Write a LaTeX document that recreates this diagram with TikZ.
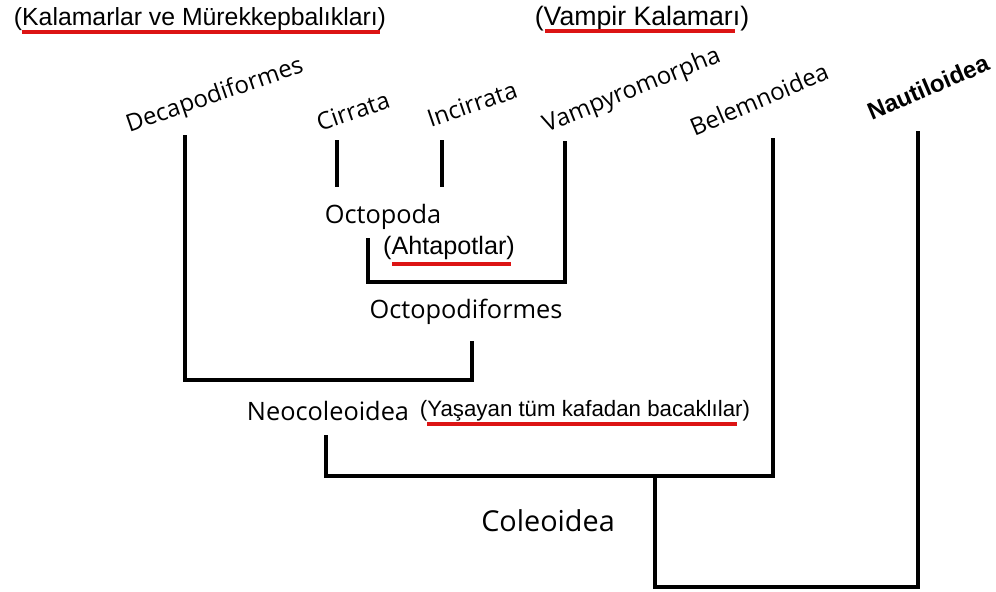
\documentclass[tikz,border=0pt]{standalone}
\usepackage{fontspec}
\setmainfont{Open Sans}
\newfontfamily\arialf{Liberation Sans}
\begin{document}
\begin{tikzpicture}[x=0.75pt,y=-0.75pt,
  tree/.style={line width=3.2pt,line join=miter,line cap=rect},
  redline/.style={line width=2.4pt,draw={rgb,255:red,220;green,20;blue,20}},
  taxon/.style={font=\fontsize{18}{21}\selectfont,inner sep=0pt},
  flat/.style={font=\fontsize{19}{22}\selectfont,inner sep=0pt},
  paren/.style={inner sep=0pt}]
\useasboundingbox (0,0) rectangle (996,592);
% labels
\node[taxon,rotate=19] (dec) at (215,96) {Decapodiformes};
\node[taxon,rotate=19] (cir) at (353,111) {Cirrata};
\node[taxon,rotate=19] (inc) at (472,104) {Incirrata};
\node[taxon,rotate=22] (vam) at (632,91) {Vampyromorpha};
\node[taxon,rotate=23] (bel) at (759,99) {Belemnoidea};
\node[taxon,rotate=23,font=\arialf\bfseries\fontsize{18}{21}\selectfont] (nau) at (928,87) {Nautiloidea};
\node[flat] (octo) at (383,217) {Octopoda};
\node[flat] (octf) at (466,312) {Octopodiformes};
\node[flat] (neo) at (328,411) {Neocoleoidea};
\node[flat,font=\fontsize{21.6}{25}\selectfont] (cole) at (548,521) {Coleoidea};
\node[paren,font=\arialf\fontsize{18.6}{22}\selectfont] (kal) at (200,19) {(Kalamarlar ve Mürekkepbalıkları)};
\node[paren,font=\arialf\fontsize{20}{24}\selectfont] (vk) at (642,19) {(Vampir Kalamarı)};
\node[paren,font=\arialf\fontsize{18.9}{22}\selectfont] (aht) at (449,248) {(Ahtapotlar)};
\node[paren,font=\arialf\fontsize{16.7}{20}\selectfont] (yas) at (585,411) {(Yaşayan tüm kafadan bacaklılar)};
% red underlines
\draw[redline] (22,32) -- (380,32);
\draw[redline] (545,31) -- (735,31);
\draw[redline] (392,264) -- (511,264);
\draw[redline] (427,424) -- (737,424);
% tree coordinates
\coordinate (decT) at (185,137);
\coordinate (decB) at (185,380);
\coordinate (ofB) at (472,380);
\coordinate (ofT) at (472,343);
\coordinate (cirT) at (337,142);
\coordinate (cirB) at (337,185);
\coordinate (incT) at (442,142);
\coordinate (incB) at (442,185);
\coordinate (octT) at (368,240);
\coordinate (octB) at (368,282);
\coordinate (vamB) at (565,282);
\coordinate (vamT) at (565,143);
\coordinate (neoT) at (326,437);
\coordinate (neoB) at (326,476);
\coordinate (belB) at (773,476);
\coordinate (belT) at (773,140);
\coordinate (colT) at (655,476);
\coordinate (colB) at (655,587);
\coordinate (nauB) at (918,587);
\coordinate (nauT) at (918,133);
% tree
\draw[tree] (decT) -- (decB) -- (ofB) -- (ofT);
\draw[tree] (cirT) -- (cirB);
\draw[tree] (incT) -- (incB);
\draw[tree] (octT) -- (octB) -- (vamB) -- (vamT);
\draw[tree] (neoT) -- (neoB) -- (belB) -- (belT);
\draw[tree] (colT) -- (colB) -- (nauB) -- (nauT);
\end{tikzpicture}
\end{document}
